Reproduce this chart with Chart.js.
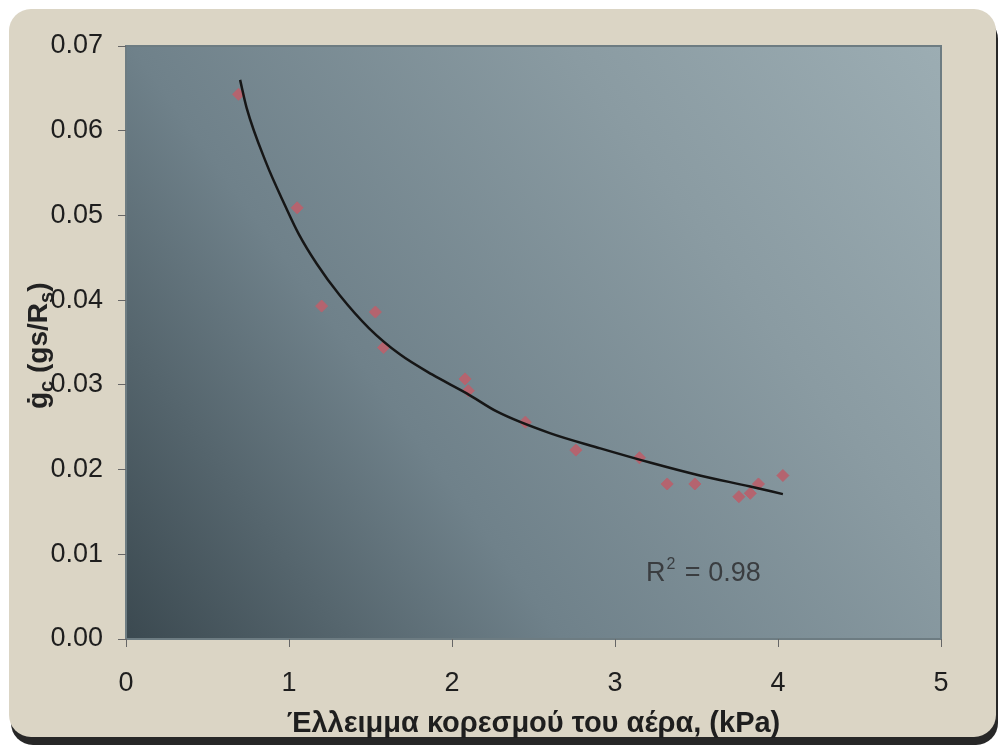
<!DOCTYPE html>
<html>
<head>
<meta charset="utf-8">
<script src="https://cdn.jsdelivr.net/npm/chart.js@4.4.1/dist/chart.umd.min.js"></script>
<style>
  html, body { margin: 0; padding: 0; background: #fff; }
  #panel {
    position: absolute; left: 9px; top: 9px; width: 987px; height: 728px;
    background: #dbd5c5; border-radius: 22px;
    box-shadow: 2px 8px 0 #272727;
  }
  #wrap { position: absolute; left: 0; top: 0; width: 999px; height: 745px; }
</style>
</head>
<body>
<div id="panel"></div>
<div id="wrap"><canvas id="chart" width="999" height="745"></canvas></div>
<script>
// measured points
const vpdValues = [0.69, 1.05, 1.20, 1.53, 1.58, 2.08, 2.10, 2.45, 2.76, 3.15, 3.32, 3.49, 3.76, 3.83, 3.88, 4.03];
const gcValues = [0.0643, 0.0509, 0.0393, 0.0386, 0.0344, 0.0307, 0.0293, 0.0256, 0.0223, 0.0214, 0.0183, 0.0183, 0.0168, 0.0172, 0.0183, 0.0193];

// trend line
const trendX = [0.70, 0.74, 0.86, 0.98, 1.06, 1.17, 1.31, 1.49, 1.68, 1.88, 2.09, 2.28, 2.60, 2.91, 3.22, 3.52, 3.83, 4.03];
const trendY = [0.0660, 0.0627, 0.0562, 0.0510, 0.0478, 0.0443, 0.0406, 0.0367, 0.0336, 0.0312, 0.0290, 0.0268, 0.0243, 0.0225, 0.0208, 0.0193, 0.0180, 0.0171];

const xTicks = [0, 1, 2, 3, 4, 5];
const yTicks = [0, 0.01, 0.02, 0.03, 0.04, 0.05, 0.06, 0.07];
const r2Label = '0.98';

const FONT = "'Liberation Sans', Arial, sans-serif";

// gradient behind the plot area
const plotBackground = {
  id: 'plotBackground',
  beforeDraw(chart) {
    const { ctx, chartArea: a } = chart;
    ctx.save();
    const g = ctx.createLinearGradient(a.left, a.bottom, a.right, a.top);
    g.addColorStop(0, '#3b4950');
    g.addColorStop(0.35, '#6f818a');
    g.addColorStop(0.7, '#8a9ba2');
    g.addColorStop(1, '#9cadb3');
    ctx.fillStyle = g;
    ctx.fillRect(a.left, a.top, a.right - a.left, a.bottom - a.top);
    ctx.strokeStyle = '#6d7c82';
    ctx.lineWidth = 2;
    ctx.strokeRect(a.left, a.top, a.right - a.left, a.bottom - a.top);
    ctx.restore();
  }
};

// y title with subscripts, and the R² note
const extraText = {
  id: 'extraText',
  afterDraw(chart) {
    const { ctx, scales } = chart;
    ctx.save();
    ctx.fillStyle = '#222';
    ctx.textBaseline = 'alphabetic';
    ctx.translate(47, 409);
    ctx.rotate(-Math.PI / 2);
    const big = 'bold 28px ' + FONT, small = 'bold 20px ' + FONT;
    let x = 0;
    const put = (t, f, dy) => { ctx.font = f; ctx.fillText(t, x, dy); x += ctx.measureText(t).width; };
    put('ġ', big, 0);
    put('c', small, 6);
    put(' (gs/R', big, 0);
    put('s', small, 6);
    put(')', big, 0);
    ctx.restore();

    ctx.save();
    ctx.fillStyle = '#3a3d40';
    ctx.textBaseline = 'alphabetic';
    let px = scales.x.getPixelForValue(3.19), py = scales.y.getPixelForValue(0.0069);
    ctx.font = '27px ' + FONT;
    ctx.fillText('R', px, py);
    px += ctx.measureText('R').width;
    ctx.font = '16px ' + FONT;
    ctx.fillText('2', px + 1, py - 12);
    px += ctx.measureText('2').width + 3;
    ctx.font = '27px ' + FONT;
    ctx.fillText(' = ' + r2Label, px, py);
    ctx.restore();
  }
};

new Chart(document.getElementById('chart'), {
  type: 'scatter',
  data: {
    datasets: [
      {
        type: 'line',
        data: trendX.map((x, i) => ({ x, y: trendY[i] })),
        borderColor: '#161616',
        borderWidth: 2.5,
        pointRadius: 0,
        cubicInterpolationMode: 'monotone',
        order: 0
      },
      {
        data: vpdValues.map((x, i) => ({ x, y: gcValues[i] })),
        backgroundColor: '#b4646f',
        borderColor: '#b4646f',
        pointStyle: 'rectRot',
        pointRadius: 6,
        order: 1
      }
    ]
  },
  plugins: [plotBackground, extraText],
  options: {
    responsive: false,
    animation: false,
    layout: { padding: { top: 46, right: 58, left: 0, bottom: 0 } },
    plugins: { legend: { display: false }, tooltip: { enabled: false } },
    scales: {
      x: {
        type: 'linear', min: 0, max: 5,
        afterBuildTicks: s => { s.ticks = xTicks.map(v => ({ value: v })); },
        afterFit: s => { s.height = 745 - 639; },
        grid: { drawOnChartArea: false, color: '#666', tickLength: 8 },
        border: { display: false },
        ticks: { color: '#1e1e1e', font: { family: FONT, size: 27 }, padding: 20 },
        title: {
          display: true, text: 'Έλλειμμα κορεσμού του αέρα, (kPa)',
          color: '#1e1e1e', font: { family: FONT, size: 29, weight: 'bold' }, padding: { top: -20 }
        }
      },
      y: {
        type: 'linear', min: 0, max: 0.07,
        afterBuildTicks: s => { s.ticks = yTicks.map(v => ({ value: v })); },
        afterFit: s => { s.width = 126; },
        grid: { drawOnChartArea: false, color: '#666', tickLength: 8 },
        border: { display: false },
        ticks: { color: '#1e1e1e', font: { family: FONT, size: 27 }, padding: 15, callback: v => v.toFixed(2) }
      }
    }
  }
});
</script>
</body>
</html>
